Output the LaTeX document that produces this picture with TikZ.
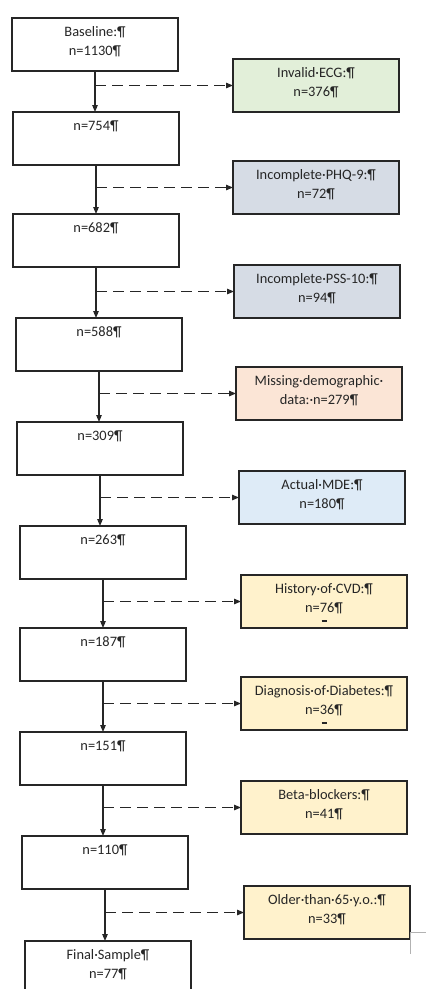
\documentclass[tikz,border=0pt]{standalone}
\usepackage{fontspec}
\setmainfont{Carlito}
\usetikzlibrary{arrows.meta}
\definecolor{boxline}{HTML}{262626}
\definecolor{txt}{HTML}{262626}
\definecolor{cgreen}{HTML}{E2EFD9}
\definecolor{cslate}{HTML}{D6DCE5}
\definecolor{cpeach}{HTML}{FBE5D6}
\definecolor{cblue}{HTML}{DEEBF7}
\definecolor{cyellow}{HTML}{FFF2CC}
\newcommand\bxt[1]{\parbox[t][53pt][t]{166pt}{\centering\rule{0pt}{18pt}#1}}
\newcommand\cellmark{\\[-9pt]\rule{5pt}{2.2pt}}
\begin{document}
\begin{tikzpicture}[x=1pt,y=-1pt,
  flowbox/.style={draw=boxline,line width=1.2pt,inner sep=0pt,outer sep=0pt,
    anchor=north west,text=txt,font=\fontsize{14.4}{19}\selectfont},
  solidarrow/.style={draw=boxline,line width=1.1pt,-{Triangle[length=7pt,width=5.5pt]}},
  dasharrow/.style={draw=boxline,line width=1.1pt,dash pattern=on 11pt off 6pt,-{Triangle[length=7pt,width=5.5pt]}}]
\useasboundingbox (0,0) rectangle (426,989);
\clip (0,0) rectangle (426,989);
\fill[white] (0,0) rectangle (426,989);
% left column
\node[flowbox] (L1) at (12,18) {\bxt{Baseline:¶\\n=1130¶}};
\node[flowbox] (L2) at (13,112) {\bxt{n=754¶}};
\node[flowbox] (L3) at (13,214) {\bxt{n=682¶}};
\node[flowbox] (L4) at (16,318) {\bxt{n=588¶}};
\node[flowbox] (L5) at (17,422) {\bxt{n=309¶}};
\node[flowbox] (L6) at (20,526) {\bxt{n=263¶}};
\node[flowbox] (L7) at (20,628) {\bxt{n=187¶}};
\node[flowbox] (L8) at (20,732) {\bxt{n=151¶}};
\node[flowbox] (L9) at (22,836) {\bxt{n=110¶}};
\node[flowbox] (L10) at (25,941) {\bxt{Final·Sample¶\\n=77¶}};
% right column
\node[flowbox,fill=cgreen] (R1) at (233,59) {\bxt{Invalid·ECG:¶\\n=376¶}};
\node[flowbox,fill=cslate] (R2) at (233,161) {\bxt{Incomplete·PHQ-9:¶\\n=72¶}};
\node[flowbox,fill=cslate] (R3) at (234,265) {\bxt{Incomplete·PSS-10:¶\\n=94¶}};
\node[flowbox,fill=cpeach] (R4) at (236,367) {\bxt{Missing·demographic·\\data:·n=279¶}};
\node[flowbox,fill=cblue] (R5) at (239,471) {\bxt{Actual·MDE:¶\\n=180¶}};
\node[flowbox,fill=cyellow] (R6) at (241,575) {\bxt{History·of·CVD:¶\\n=76¶\cellmark}};
\node[flowbox,fill=cyellow] (R7) at (241,677) {\bxt{Diagnosis·of·Diabetes:¶\\n=36¶\cellmark}};
\node[flowbox,fill=cyellow] (R8) at (241,781) {\bxt{Beta-blockers:¶\\n=41¶}};
\node[flowbox,fill=cyellow] (R9) at (244,886) {\bxt{Older·than·65·y.o.:¶\\n=33¶}};
% connectors
\foreach \i/\j in {1/2,2/3,3/4,4/5,5/6,6/7,7/8,8/9,9/10}{
  \draw[solidarrow] (L\i.south) -- (L\i.south |- L\j.north);
  \draw[dasharrow] (L\i.south |- R\i.west) -- (R\i.west);
}
% stray table border at lower right
\draw[gray!60,line width=0.8pt] (426,932) -- (410,932) -- (410,954);
\end{tikzpicture}
\end{document}
